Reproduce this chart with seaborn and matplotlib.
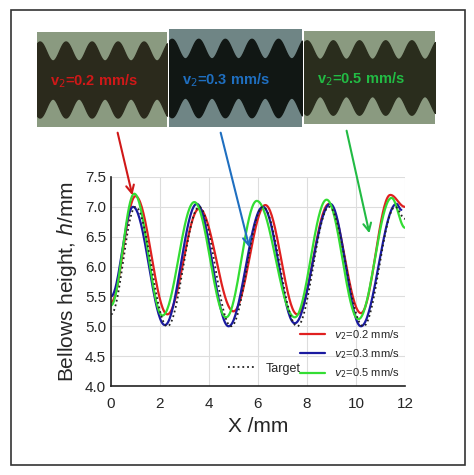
import numpy as np
import matplotlib
matplotlib.use("Agg")
import matplotlib.pyplot as plt
import seaborn as sns
import pandas as pd
from matplotlib.patches import Rectangle, FancyArrowPatch

sns.set_style("white")
plt.rcParams['font.family'] = ['Liberation Sans', 'DejaVu Sans']

# extrema (x, h)
target_x = [0.0, 1.0, 2.3, 3.6, 4.9, 6.2, 7.6, 8.9, 10.3, 11.6, 12.0]
target_h = [5.2, 7.0, 5.0, 7.0, 5.0, 7.0, 5.0, 7.0, 5.0, 7.0, 6.8]
red_x = [0.0, 1.0, 2.3, 3.6, 5.0, 6.3, 7.6, 8.9, 10.2, 11.4, 12.0]
red_h = [5.4, 7.18, 5.2, 6.97, 5.25, 7.03, 5.2, 7.05, 5.22, 7.2, 7.0]
blue_x = [0.0, 0.9, 2.2, 3.5, 4.8, 6.2, 7.5, 8.95, 10.2, 11.65, 11.85]
blue_h = [5.5, 7.0, 5.02, 7.05, 5.0, 7.0, 5.05, 7.05, 5.0, 7.05, 6.95]
green_x = [0.0, 0.95, 2.1, 3.4, 4.7, 5.95, 7.5, 8.8, 10.1, 11.45, 12.0]
green_h = [5.35, 7.22, 5.18, 7.08, 5.15, 7.1, 5.15, 7.12, 5.12, 7.15, 6.65]

labels = ["$v_2$=0.2 mm/s", "$v_2$=0.3 mm/s", "$v_2$=0.5 mm/s"]
panel_labels = ["v$_2$=0.2 mm/s", "v$_2$=0.3 mm/s", "v$_2$=0.5 mm/s"]

def smooth(xs, hs, n=40):
    X, Y = [], []
    for i in range(len(xs) - 1):
        t = np.linspace(0, 1, n, endpoint=False)
        w = (1 - np.cos(np.pi * t)) / 2
        X.extend(xs[i] + (xs[i+1] - xs[i]) * t)
        Y.extend(hs[i] + (hs[i+1] - hs[i]) * w)
    X.append(xs[-1]); Y.append(hs[-1])
    return np.array(X), np.array(Y)

fig = plt.figure(figsize=(4.74, 4.75), dpi=100)
fig.patches.append(Rectangle((11/474, 1-465/475), 454/474, 455/475, transform=fig.transFigure,
                             fill=False, ec='#333333', lw=1.2))

ax = fig.add_axes([111/474, 89/475, 294/474, 209/475])
ax.grid(True, color='#dddddd', lw=0.8)
for xs, hs, c, lab in [(red_x, red_h, '#e02020', labels[0]), (blue_x, blue_h, '#1a1aa0', labels[1]),
                       (green_x, green_h, '#33dd33', labels[2])]:
    X, Y = smooth(xs, hs)
    sns.lineplot(x=X, y=Y, ax=ax, color=c, lw=1.6, label=lab, sort=False)
X, Y = smooth(target_x, target_h)
tl, = ax.plot(X, Y, color='#222222', ls=':', lw=1.3)
ax.set_xlim(0, 12); ax.set_ylim(4.0, 7.5)
ax.set_xticks(range(0, 13, 2)); ax.set_yticks(np.arange(4.0, 7.51, 0.5))
ax.set_yticklabels([f"{v:.1f}" for v in np.arange(4.0, 7.51, 0.5)])
ax.set_xticks(range(1, 12, 2), minor=True); ax.set_yticks(np.arange(4.25, 7.5, 0.5), minor=True)
ax.tick_params(which='both', direction='in', labelsize=11, length=4)
ax.tick_params(which='minor', length=2)
ax.tick_params(axis='x', pad=8)
for s in ['top', 'right']:
    ax.spines[s].set_visible(False)
for s in ['left', 'bottom']:
    ax.spines[s].set_color('#222222'); ax.spines[s].set_linewidth(1.2)
ax.set_xlabel("X /mm", fontsize=15)
ax.set_ylabel("Bellows height, $h$/mm", fontsize=15)
leg = ax.legend(loc='lower right', frameon=False, fontsize=8, handlelength=2.2,
                borderaxespad=0.1, labelspacing=0.5)
ax.add_artist(leg)
ax.legend([tl], ["Target"], loc='lower left', bbox_to_anchor=(0.36, 0.0), frameon=False, fontsize=9, handlelength=2.2)

# micrograph-like panels
panels = [((37, 32, 130, 95), '#8a9a80', '#2b2a1c', '#d01818', panel_labels[0]),
          ((169, 29, 133, 98), '#6f8585', '#111714', '#1f6fc0', panel_labels[1]),
          ((304, 31, 131, 93), '#8a9a80', '#2a2d1d', '#22bb44', panel_labels[2])]
for (px, py, pw, ph), bg, fg, tc, lab in panels:
    pa = fig.add_axes([px/474, 1-(py+ph)/475, pw/474, ph/475])
    pa.set_xlim(0, 1); pa.set_ylim(0, 1)
    pa.set_facecolor(bg)
    xx = np.linspace(0, 1, 200)
    top = 0.8 + 0.1*np.cos(2*np.pi*(5*xx - 0.1))
    bot = 0.2 - 0.1*np.cos(2*np.pi*(5*xx - 0.1))
    pa.fill_between(xx, bot, top, color=fg)
    pa.text(0.1, 0.48, lab, color=tc, fontsize=10.5, fontweight='bold', va='center')
    pa.set_xticks([]); pa.set_yticks([])
    for s in pa.spines.values():
        s.set_visible(False)

for (x0, y0, x1, y1, c) in [(117, 130, 133, 198, '#d01818'), (220, 130, 250, 250, '#1f6fc0'),
                            (346, 128, 370, 236, '#22bb44')]:
    fig.patches.append(FancyArrowPatch((x0/474, 1-y0/475), (x1/474, 1-y1/475), transform=fig.transFigure,
                                       arrowstyle='->', mutation_scale=14, color=c, lw=1.5))

fig.savefig("out.png", dpi=100)
